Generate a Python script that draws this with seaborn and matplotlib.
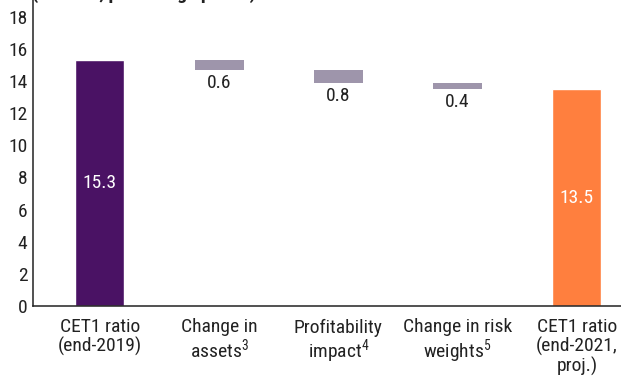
import matplotlib
matplotlib.use("Agg")
import matplotlib.pyplot as plt
import seaborn as sns
import pandas as pd
import numpy as np

# Waterfall of the CET1 capital ratio, end-2019 to end-2021 (projected)
categories = ["CET1 ratio\n(end-2019)", "Change in\nassets$^{3}$", "Profitability\nimpact$^{4}$",
              "Change in risk\nweights$^{5}$", "CET1 ratio\n(end-2021,\nproj.)"]
start_ratio = 15.3
end_ratio = 13.5
changes = [0.6, 0.8, 0.4]          # reductions in percentage points
change_labels = ["0.6", "0.8", "0.4"]
y_ticks = [0, 2, 4, 6, 8, 10, 12, 14, 16, 18]

PURPLE = "#4a1264"
ORANGE = "#ff7f3e"
GREY = "#9e95ab"
INK = "#222222"

FONTS = ["Roboto Condensed", "Liberation Sans Narrow", "Arial Narrow", "Liberation Sans", "DejaVu Sans"]

sns.set_theme(style="white")
plt.rcParams["font.family"] = FONTS
plt.rcParams["font.stretch"] = "condensed"
plt.rcParams["mathtext.fontset"] = "custom"
plt.rcParams["mathtext.rm"] = "Roboto Condensed"
plt.rcParams["mathtext.it"] = "Roboto Condensed"

FS = 14

fig = plt.figure(figsize=(6.21, 3.86), dpi=100)
ax = fig.add_axes([33 / 621, 80 / 386, 588 / 621, 306 / 386])

totals = pd.DataFrame({"category": [categories[0], categories[-1]],
                       "value": [start_ratio, end_ratio]})
sns.barplot(data=totals, x="category", y="value", hue="category", order=categories,
            palette={categories[0]: PURPLE, categories[-1]: ORANGE},
            width=0.41, legend=False, ax=ax, saturation=1)

# floating bars for each step down
tops = start_ratio - np.concatenate([[0], np.cumsum(changes)[:-1]])
bottoms = tops - np.array(changes)
xs = np.arange(1, 1 + len(changes))
ax.bar(xs, changes, bottom=bottoms, width=0.41, color=GREY, linewidth=0)

for x, b, lab in zip(xs, bottoms, change_labels):
    ax.annotate(lab, (x, b), xytext=(0, -3), textcoords="offset points",
                ha="center", va="top", fontsize=FS, color=INK)

ax.text(0, start_ratio / 2, f"{start_ratio:.1f}", ha="center", va="center",
        color="white", fontsize=FS)
ax.text(4, end_ratio / 2, f"{end_ratio:.1f}", ha="center", va="center",
        color="white", fontsize=FS)

ax.set_xlim(-0.56, 4.37)
ax.set_ylim(0, 19.05)
ax.set_yticks(y_ticks)
ax.set_yticklabels([str(v) for v in y_ticks])

# ticks at category boundaries, labels centred on bars
ax.set_xticks([-0.5, 0.5, 1.5, 2.5, 3.5])
ax.set_xticklabels([])
ax.set_xticks(range(len(categories)), minor=True)
ax.set_xticklabels(categories, minor=True, fontsize=FS, color=INK, linespacing=1.05)
ax.tick_params(axis="x", which="major", direction="in", length=6, width=1.1, color=INK)
ax.tick_params(axis="x", which="minor", length=0, pad=9)
ax.tick_params(axis="y", direction="in", length=6, width=1.1, color=INK,
               labelsize=FS, labelcolor=INK, pad=4)
ax.set_xlabel("")
ax.set_ylabel("")

for side in ["top", "right"]:
    ax.spines[side].set_visible(False)
for side in ["left", "bottom"]:
    ax.spines[side].set_color(INK)
    ax.spines[side].set_linewidth(1.1)

fig.text(32 / 621, 1 + 1 / 386, "(Percent; percentage points)", ha="left", va="baseline",
         fontsize=FS, fontweight="bold", color=INK)

fig.savefig("out.png", dpi=100)
